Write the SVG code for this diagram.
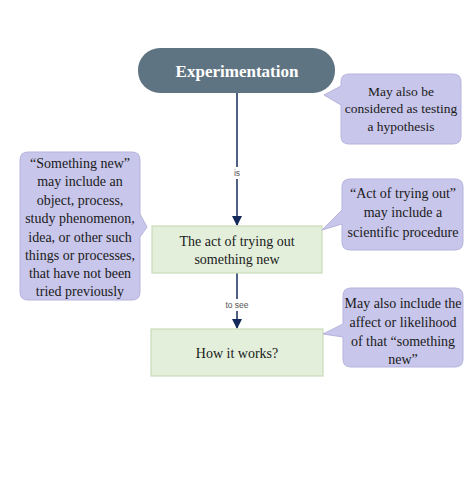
<svg xmlns="http://www.w3.org/2000/svg" width="474" height="494" viewBox="0 0 474 494">
<defs>
<style>
.bg{fill:#ffffff}
.pill{fill:#5f7482}
.pilltxt{font-family:"Liberation Serif","Times New Roman",serif;font-weight:bold;font-size:17px;fill:#ffffff;text-anchor:middle}
.box{fill:#e3efda;stroke:#c9dcba;stroke-width:1.2}
.boxtxt{font-family:"Liberation Serif","Times New Roman",serif;font-size:14px;fill:#1a1a1a;text-anchor:middle}
.note{fill:#c8c6ea;stroke:#b6b3de;stroke-width:1}
.notetxt{font-family:"Liberation Serif","Times New Roman",serif;font-size:14px;fill:#1a1a1a;text-anchor:middle}
.edge{stroke:#243a63;stroke-width:1.6;fill:none}
.lblbg{fill:#ffffff}
.lbl{font-family:"Liberation Sans",Arial,sans-serif;font-size:8.5px;fill:#555555;text-anchor:middle}
</style>
<marker id="arr" markerWidth="10" markerHeight="12" refX="9" refY="5" orient="auto" markerUnits="userSpaceOnUse" viewBox="0 0 10 10">
<path d="M0,0 L10,5 L0,10 z" fill="#13295a"/>
</marker>
</defs>
<rect class="bg" x="0" y="0" width="474" height="494"/>

<g id="connectors">
<line class="edge" x1="237" y1="93" x2="237" y2="225" marker-end="url(#arr)"/>
<rect class="lblbg" x="230" y="167" width="14" height="12"/>
<text class="lbl" x="237" y="176">is</text>
<line class="edge" x1="237" y1="273" x2="237" y2="328" marker-end="url(#arr)"/>
<rect class="lblbg" x="224" y="299" width="26" height="12"/>
<text class="lbl" x="237" y="308">to see</text>
</g>

<g id="experimentation">
<rect class="pill" x="138" y="48" width="197" height="45" rx="22" ry="22"/>
<text class="pilltxt" x="237" y="77">Experimentation</text>
</g>

<g id="act">
<rect class="box" x="152" y="226" width="170" height="47"/>
<text class="boxtxt" x="237" y="246">The act of trying out</text>
<text class="boxtxt" x="237" y="264">something new</text>
</g>

<g id="how">
<rect class="box" x="151" y="329" width="172" height="47"/>
<text class="boxtxt" x="237" y="358">How it works?</text>
</g>

<g id="note-hypothesis">
<path class="note" d="M349,74 H453 Q461,74 461,82 V136 Q461,144 453,144 H349 Q341,144 341,136 V105 L324,95 L341,86 V82 Q341,74 349,74 Z"/>
<text class="notetxt" x="401" y="96" style="font-size:13.5px">May also be</text>
<text class="notetxt" x="401" y="113" style="font-size:13.5px">considered as testing</text>
<text class="notetxt" x="401" y="131" style="font-size:13.5px">a hypothesis</text>
</g>

<g id="note-something-new">
<path class="note" d="M28,152 H132 Q140,152 140,160 V214 L147,227 L140,237 V292 Q140,300 132,300 H28 Q20,300 20,292 V160 Q20,152 28,152 Z"/>
<text class="notetxt" x="80" y="168">“Something new”</text>
<text class="notetxt" x="80" y="186">may include an</text>
<text class="notetxt" x="80" y="205">object, process,</text>
<text class="notetxt" x="80" y="223">study phenomenon,</text>
<text class="notetxt" x="80" y="242">idea, or other such</text>
<text class="notetxt" x="80" y="260">things or processes,</text>
<text class="notetxt" x="80" y="278">that have not been</text>
<text class="notetxt" x="80" y="296">tried previously</text>
</g>

<g id="note-act">
<path class="note" d="M350,179 H455 Q463,179 463,187 V242 Q463,250 455,250 H350 Q342,250 342,242 V224 L322,230 L342,210 V187 Q342,179 350,179 Z"/>
<text class="notetxt" x="403" y="198">“Act of trying out”</text>
<text class="notetxt" x="403" y="217">may include a</text>
<text class="notetxt" x="403" y="237">scientific procedure</text>
</g>

<g id="note-affect">
<path class="note" d="M351,288 H455 Q463,288 463,296 V359 Q463,367 455,367 H351 Q343,367 343,359 V337 L323,334 L343,324 V296 Q343,288 351,288 Z"/>
<text class="notetxt" x="403" y="308">May also include the</text>
<text class="notetxt" x="403" y="327">affect or likelihood</text>
<text class="notetxt" x="403" y="346">of that “something</text>
<text class="notetxt" x="403" y="364">new”</text>
</g>
</svg>
